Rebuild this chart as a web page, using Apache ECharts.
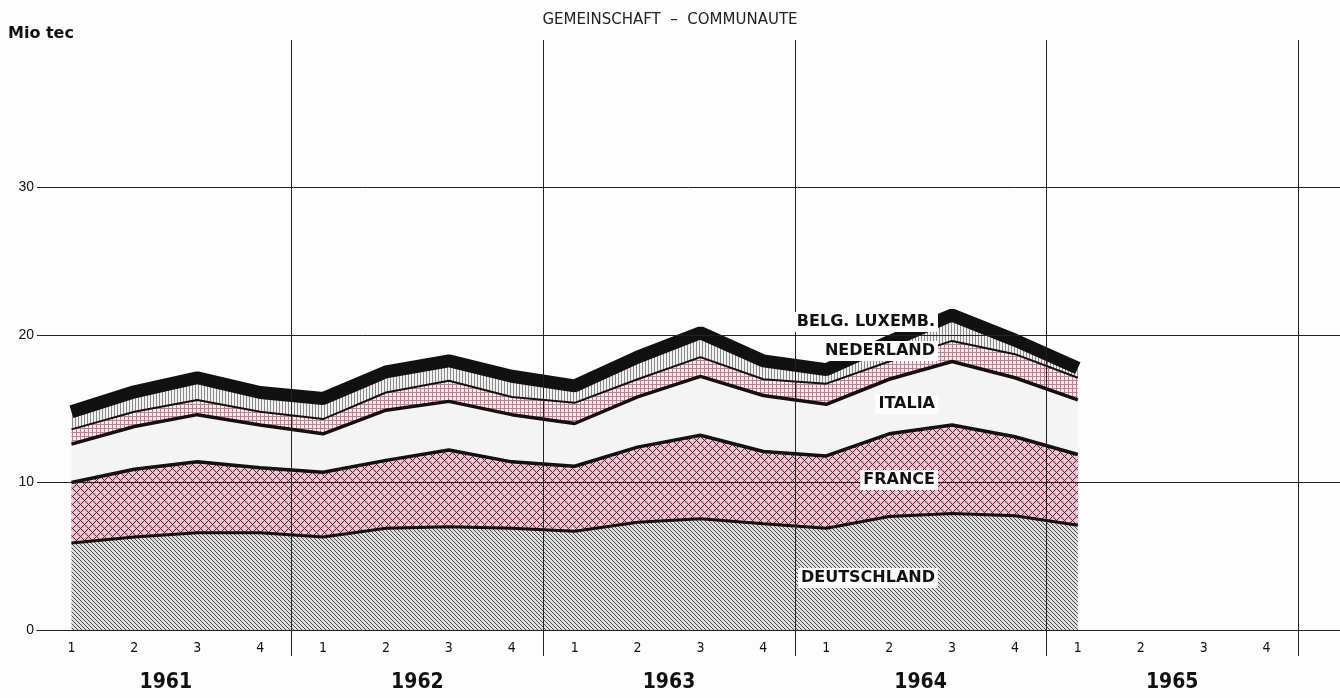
<!DOCTYPE html>
<html>
<head>
<meta charset="utf-8">
<script src="https://cdn.jsdelivr.net/npm/echarts@6/dist/echarts.min.js"></script>
<style>
  html, body { margin: 0; padding: 0; background: #fdfdfd; }
  #chart { width: 1340px; height: 698px; }
</style>
</head>
<body>
<div id="chart"></div>
<script>
// quarters 1961-1965, data only up to 1965 Q1
const quarters = [
  '1961-1', '1961-2', '1961-3', '1961-4',
  '1962-1', '1962-2', '1962-3', '1962-4',
  '1963-1', '1963-2', '1963-3', '1963-4',
  '1964-1', '1964-2', '1964-3', '1964-4',
  '1965-1', '1965-2', '1965-3', '1965-4'
];
const years = ['1961', '1962', '1963', '1964', '1965'];

// Mio tec per country (stacked)
const deutschland = [5.9, 6.3, 6.6, 6.6, 6.3, 6.9, 7.0, 6.9, 6.7, 7.3, 7.55, 7.2, 6.9, 7.7, 7.9, 7.75, 7.1];
const france      = [4.1, 4.6, 4.8, 4.4, 4.4, 4.6, 5.2, 4.5, 4.4, 5.1, 5.65, 4.9, 4.9, 5.6, 6.0, 5.35, 4.8];
const italia      = [2.6, 2.9, 3.2, 2.9, 2.6, 3.4, 3.3, 3.2, 2.9, 3.4, 4.0, 3.8, 3.5, 3.7, 4.3, 4.0, 3.7];
const nederland   = [1.0, 1.0, 1.0, 0.9, 1.0, 1.2, 1.4, 1.2, 1.4, 1.2, 1.3, 1.1, 1.4, 1.2, 1.4, 1.6, 1.5];
const belgLux     = [1.2, 1.35, 1.5, 1.3, 1.4, 1.4, 1.35, 1.4, 1.15, 1.5, 1.65, 1.25, 0.95, 1.35, 1.75, 0.95, 0.65];

const yTicks = [0, 10, 20, 30];

// pixel patterns for the hatched areas
function makePattern(size, fn) {
  const c = document.createElement('canvas');
  c.width = size; c.height = size;
  const ctx = c.getContext('2d');
  for (let y = 0; y < size; y++) {
    for (let x = 0; x < size; x++) {
      ctx.fillStyle = fn(x, y);
      ctx.fillRect(x, y, 1, 1);
    }
  }
  return { image: c, repeat: 'repeat' };
}
const patDeutsch = makePattern(4, (x, y) => ((x - y + 4) % 4 === 0 ? '#4a4a4a' : '#dedede'));
const patFrance = makePattern(8, (x, y) => {
  if ((x + y) % 8 === 0 || (x - y + 8) % 8 === 0) return '#5a2234';
  if ((x === 4 && y === 0) || (x === 0 && y === 4)) return '#fbe6eb';
  return '#f0bfcb';
});
const patNed = makePattern(4, (x, y) => (x % 4 === 0 || y % 4 === 0 ? '#c97a8e' : '#fdeef1'));
const patBelg = makePattern(3, (x, y) => (x % 3 === 0 ? '#8a8a8a' : '#f2f2f2'));

function areaSeries(name, data, fill, lineW) {
  return {
    name: name,
    type: 'line',
    stack: 'total',
    xAxisIndex: 1,
    yAxisIndex: 1,
    symbol: 'none',
    data: data,
    lineStyle: { color: '#111', width: lineW },
    areaStyle: { color: fill, opacity: 1 }
  };
}

// country names, right-aligned at the same x like the original
function seriesLabel(text, centerY) {
  return {
    type: 'text', right: 402, top: centerY - 11, z: 20,
    style: {
      text: text, fill: '#111', backgroundColor: '#fdfdfd', padding: [2, 3],
      fontSize: 16, fontWeight: 'bold', fontFamily: 'DejaVu Sans, sans-serif'
    }
  };
}

const chart = echarts.init(document.getElementById('chart'));
const option = {
  animation: false,
  backgroundColor: '#fdfdfd',
  title: {
    text: 'GEMEINSCHAFT  –  COMMUNAUTE',
    left: 'center', top: 8,
    textStyle: { fontSize: 15, fontWeight: 'normal', fontFamily: 'DejaVu Sans, sans-serif', color: '#222' }
  },
  graphic: [
    { type: 'text', left: 8, top: 26, style: { text: 'Mio tec', fontSize: 16, fontWeight: 'bold', fontFamily: 'DejaVu Sans, sans-serif', fill: '#111' } },
    seriesLabel('BELG. LUXEMB.', 323),
    seriesLabel('NEDERLAND', 352),
    seriesLabel('ITALIA', 405),
    seriesLabel('FRANCE', 481),
    seriesLabel('DEUTSCHLAND', 579)
  ],
  grid: [
    { left: 37, right: 0, top: 40, bottom: 68 },
    { left: 40, right: 42, top: 40, bottom: 68 }
  ],
  xAxis: [
    {
      gridIndex: 0, type: 'value', min: 0, max: 1, z: 5, position: 'bottom',
      axisLine: { show: true, onZero: false, lineStyle: { color: '#222', width: 1 } },
      axisTick: { show: false }, axisLabel: { show: false }, splitLine: { show: false }
    },
    {
      gridIndex: 1, type: 'category', data: quarters, boundaryGap: true, position: 'bottom',
      axisLine: { show: false }, axisTick: { show: false },
      axisLabel: {
        margin: 11, fontSize: 14, color: '#111', fontFamily: 'DejaVu Sans Condensed, Liberation Sans Narrow, sans-serif',
        formatter: v => v.split('-')[1]
      },
      splitLine: { show: false }
    },
    {
      gridIndex: 1, type: 'category', data: years, boundaryGap: true, z: 5, position: 'bottom', offset: 0,
      axisLine: { show: false },
      axisTick: { show: true, length: 26, interval: (i) => i > 0, lineStyle: { color: '#222', width: 1 } },
      axisLabel: {
        margin: 42, fontSize: 21, fontWeight: 'bold', color: '#111',
        fontFamily: 'DejaVu Sans Condensed, Liberation Sans Narrow, sans-serif'
      },
      splitLine: { show: true, lineStyle: { color: ['transparent', '#222', '#222', '#222', '#222', '#222'], width: 1 } }
    }
  ],
  yAxis: [
    {
      gridIndex: 0, type: 'value', min: 0, max: 40, interval: 10, z: 5,
      axisLine: { show: false },
      axisTick: { show: false },
      axisLabel: {
        margin: 3, fontSize: 14, color: '#111', fontFamily: 'Liberation Sans, sans-serif',
        formatter: v => (yTicks.indexOf(v) >= 0 ? String(v) : '')
      },
      splitLine: { show: true, lineStyle: { color: ['transparent', '#222', '#222', '#222', 'transparent'], width: 1 } }
    },
    { gridIndex: 1, type: 'value', min: 0, max: 40, show: false }
  ],
  series: [
    areaSeries('DEUTSCHLAND', deutschland, patDeutsch, 3),
    areaSeries('FRANCE', france, patFrance, 3.5),
    areaSeries('ITALIA', italia, '#f4f4f4', 3.5),
    areaSeries('NEDERLAND', nederland, patNed, 2),
    areaSeries('BELG. LUXEMB.', belgLux, patBelg, 13)
  ]
};
chart.setOption(option);
</script>
</body>
</html>
